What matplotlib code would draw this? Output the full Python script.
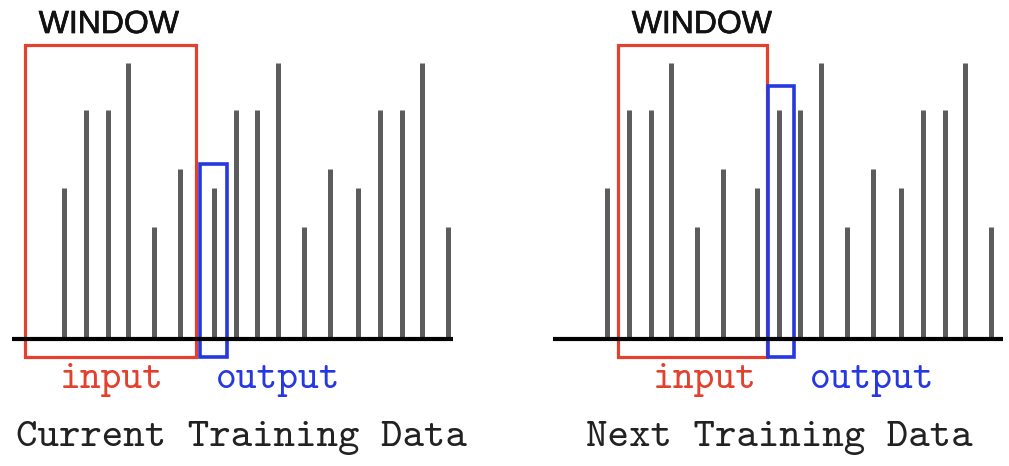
import matplotlib.pyplot as plt
import matplotlib.patheffects as pe
from matplotlib.patches import Rectangle

# series of the sliding window picture (same series in both panels)
positions = [64, 86, 108, 128, 154, 180, 214, 236, 257, 278, 304, 330, 358, 380, 402, 422, 448]
values = [151, 229, 229, 276, 112, 170, 151, 229, 229, 276, 112, 170, 151, 229, 229, 276, 112]

titles = ['Current Training Data', 'Next Training Data']
output_index = [6, 7]

red = '#e4402e'
blue = '#2638e0'
grey = '#5c5c5c'
mono = ['cmtt10', 'DejaVu Sans Mono']

fig = plt.figure(figsize=(10.09, 4.66), dpi=100)

# panel geometry (pixels)
panels = [
    dict(left=0, width=543, base=(12, 453), win=(25, 196), out=(200, 227),
         win_txt=109, in_txt=112, out_txt=278, title_x=241),
    dict(left=543, width=466, base=(10, 460), win=(75, 224), out=(225, 251),
         win_txt=159, in_txt=162, out_txt=329, title_x=236),
]

for k, p in enumerate(panels):
    ax = fig.add_axes([p['left'] / 1009, 0, p['width'] / 1009, 1])
    ax.set_xlim(0, p['width'])
    ax.set_ylim(-127, 339)
    ax.axis('off')

    # bars and baseline
    ax.vlines(positions, 0, values, colors=grey, linewidth=3.6, capstyle='butt')
    ax.hlines(0, p['base'][0], p['base'][1], colors='black', linewidth=3.0)

    # window box
    x0, x1 = p['win']
    ax.add_patch(Rectangle((x0, -18), x1 - x0, 294 + 18, fill=False,
                           edgecolor=red, linewidth=2.3))
    # output box
    o0, o1 = p['out']
    top = values[output_index[k]] + 24
    ax.add_patch(Rectangle((o0, -18), o1 - o0, top + 18, fill=False,
                           edgecolor=blue, linewidth=2.6))

    ax.text(p['win_txt'], 314, 'WINDOW', ha='center', va='center',
            fontsize=23, family='Liberation Sans', color='#111111',
            path_effects=[pe.withStroke(linewidth=0.5, foreground='#111111')])
    ax.text(p['in_txt'], -41, 'input', ha='center', va='center',
            fontsize=28.5, family=mono, color=red)
    ax.text(p['out_txt'], -41, 'output', ha='center', va='center',
            fontsize=28.5, family=mono, color=blue)
    ax.text(p['title_x'], -99, titles[k], ha='center', va='center',
            fontsize=29.5, family=mono, color='#222222')

fig.savefig('out.png', dpi=100)
